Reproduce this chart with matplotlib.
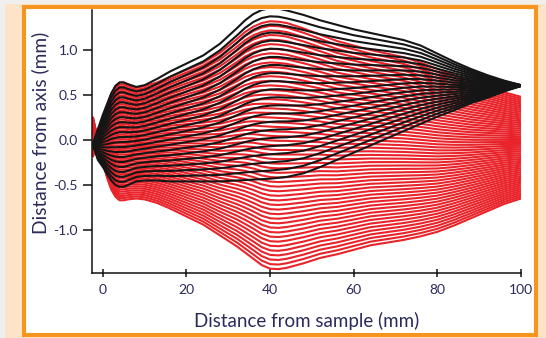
import numpy as np
import matplotlib
matplotlib.use("Agg")
import matplotlib.pyplot as plt
from matplotlib.patches import Rectangle

# ---- data ----
x_mm = [-2.4, -1.2, 0, 1, 2, 3, 4, 5, 6, 8, 10, 13, 16, 20, 24, 28, 32, 34, 36,
        38, 40, 42, 44, 48, 52, 56, 60, 64, 68, 72, 76, 80, 84, 88, 92, 96, 100]

# black family (point-to-point bundle): outer envelope rays
black_top = [-0.05, 0.12, 0.28, 0.40, 0.52, 0.60, 0.64, 0.64, 0.62, 0.59, 0.61,
             0.68, 0.76, 0.85, 0.94, 1.07, 1.24, 1.33, 1.40,
             1.445, 1.465, 1.46, 1.44, 1.39, 1.33, 1.28, 1.23, 1.19, 1.15, 1.11,
             1.05, 0.96, 0.87, 0.79, 0.72, 0.66, 0.61]
black_bottom = [-0.05, -0.22, -0.30, -0.38, -0.45, -0.50, -0.52, -0.52, -0.50,
                -0.46, -0.45, -0.45, -0.46, -0.46, -0.46, -0.46, -0.45, -0.445,
                -0.44, -0.435, -0.43, -0.42, -0.41, -0.37, -0.30, -0.22, -0.14,
                -0.06, 0.02, 0.10, 0.18, 0.26, 0.33, 0.41, 0.47, 0.54, 0.60]

# red family: outer envelope rays
red_top = [-0.19, 0.00, 0.20, 0.36, 0.50, 0.60, 0.64, 0.64, 0.62, 0.58, 0.60,
           0.64, 0.70, 0.78, 0.86, 0.97, 1.12, 1.20, 1.26,
           1.30, 1.32, 1.315, 1.30, 1.24, 1.17, 1.10, 1.05, 1.00, 0.96, 0.92,
           0.86, 0.79, 0.72, 0.65, 0.59, 0.53, 0.48]
red_bottom = [0.26, 0.00, -0.25, -0.42, -0.55, -0.63, -0.67, -0.67, -0.66,
              -0.65, -0.66, -0.70, -0.76, -0.85, -0.94, -1.06, -1.18, -1.25,
              -1.32, -1.39, -1.43, -1.435, -1.42, -1.37, -1.31, -1.27, -1.22,
              -1.17, -1.14, -1.11, -1.07, -1.02, -0.95, -0.87, -0.79, -0.71,
              -0.65]

n_black_rays = 22
n_red_rays = 55

x_ticks = [0, 20, 40, 60, 80, 100]
y_ticks = [-1.0, -0.5, 0.0, 0.5, 1.0]
y_ticklabels = ["-1.0", "-0.5", "0.0", "0.5", "1.0"]

# ---- figure ----
W, H = 546, 338
fig = plt.figure(figsize=(W / 100, H / 100), dpi=100, facecolor="#FDE3C8")

# light gray strips at the left and top edges
fig.patches.append(Rectangle((0, 0), 5 / W, 1, transform=fig.transFigure,
                             facecolor="#F1EFED", edgecolor="none", zorder=-3))
fig.patches.append(Rectangle((0, 1 - 4 / H), 1, 4 / H, transform=fig.transFigure,
                             facecolor="#F1EFED", edgecolor="none", zorder=-3))
# white panel with orange frame
fig.patches.append(Rectangle((24 / W, 3.5 / H), (536 - 24) / W, (331.5 - 3.5) / H,
                             transform=fig.transFigure, facecolor="white",
                             edgecolor="#F7941E", linewidth=2.9, zorder=-2))

ax = fig.add_axes([92 / W, (H - 273) / H, (521 - 92) / W, (273 - 10) / H])
ax.set_facecolor("none")
ax.set_zorder(1)

xb = np.array(x_mm)
bt, bb = np.array(black_top), np.array(black_bottom)
rt, rb = np.array(red_top), np.array(red_bottom)

red_col = "#E8232A"
blk_col = "#151515"
for t in np.linspace(0, 1, n_red_rays):
    ax.plot(xb, rb + t * (rt - rb), color=red_col, lw=1.5, solid_capstyle="butt",
            solid_joinstyle="round", zorder=2)
for t in np.linspace(0, 1, n_black_rays):
    ax.plot(xb, bb + t * (bt - bb), color=blk_col, lw=1.5, solid_capstyle="butt",
            solid_joinstyle="round", zorder=3)

ax.set_xlim(-2.6, 100)
ax.set_ylim(-1.478, 1.445)

for s in ["top", "right"]:
    ax.spines[s].set_visible(False)
for s in ["left", "bottom"]:
    ax.spines[s].set_linewidth(1.1)
    ax.spines[s].set_color("#111111")

lab_col = "#2B2A5A"
ax.set_xticks(x_ticks)
ax.set_xticklabels([str(v) for v in x_ticks])
ax.set_yticks(y_ticks)
ax.set_yticklabels(y_ticklabels)
ax.tick_params(axis="y", direction="out", length=6.5, width=1.1, pad=3.5,
               labelsize=10, labelcolor=lab_col, color="#111111")
ax.tick_params(axis="x", direction="inout", length=5.5, width=1.1, pad=5,
               labelsize=10, labelcolor=lab_col, color="#111111")
for lab in ax.get_xticklabels() + ax.get_yticklabels():
    lab.set_family("Lato")

fig.text((92 + 521) / 2 / W, 1 - 321 / H, "Distance from sample (mm)",
         ha="center", va="center", fontsize=13.5, color=lab_col, family="Lato")
fig.text(40 / W, 1 - 133 / H, "Distance from axis (mm)", rotation=90,
         ha="center", va="center", fontsize=13.8, color=lab_col, family="Lato")

fig.savefig("out.png", dpi=100, facecolor=fig.get_facecolor())
